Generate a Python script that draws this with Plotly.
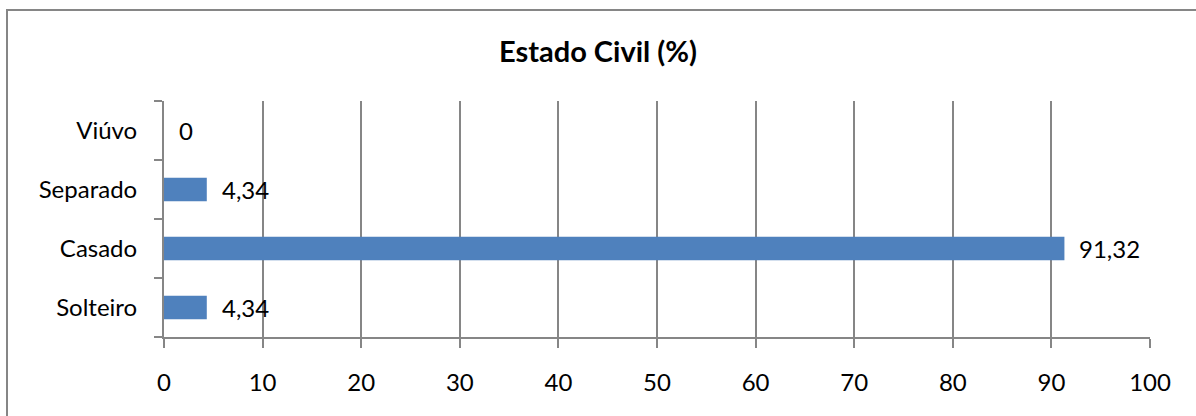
import plotly.graph_objects as go

categories = ["Solteiro", "Casado", "Separado", "Viúvo"]
values = [4.34, 91.32, 4.34, 0]
x_ticks = [0, 10, 20, 30, 40, 50, 60, 70, 80, 90, 100]
title = "Estado Civil (%)"

FONT = "Lato"
GRID = "#868686"
BAR = "#4F81BD"

def fmt(v):
    s = ("%g" % v)
    return s.replace(".", ",")

fig = go.Figure()
fig.add_trace(go.Bar(
    y=categories, x=values, orientation="h",
    marker=dict(color=BAR, line=dict(width=0)),
    width=0.4, hoverinfo="skip",
))

for c, v in zip(categories, values):
    fig.add_annotation(x=v, y=c, xref="x", yref="y", text=fmt(v),
                       showarrow=False, xanchor="left", yanchor="middle",
                       xshift=13, font=dict(family=FONT, size=24, color="#000"))

W, H = 1196, 416
L, R, T, B = 164, 46, 101, 79
pw, ph = W - L - R, H - T - B
# outer frame
fig.add_shape(type="rect", xref="paper", yref="paper",
              x0=(7 - L) / pw, x1=(W + 10 - L) / pw,
              y0=1 - (H + 10 - T) / ph, y1=1 + (T - 10) / ph,
              line=dict(color=GRID, width=2), fillcolor="rgba(0,0,0,0)", layer="below")

fig.update_layout(
    width=W, height=H,
    margin=dict(l=L, r=R, t=T, b=B, pad=0),
    paper_bgcolor="white", plot_bgcolor="white",
    showlegend=False,
    font=dict(family=FONT, size=24, color="#000"),
    title=dict(text="<b>" + title + "</b>", x=0.5, xanchor="center",
               y=1 - 52 / H, yanchor="middle",
               font=dict(family=FONT, size=29, color="#000")),
    xaxis=dict(range=[0, 100], tickvals=x_ticks, ticktext=[str(t) for t in x_ticks],
               showgrid=True, gridcolor=GRID, gridwidth=2,
               showline=True, linecolor=GRID, linewidth=2,
               ticks="outside", ticklen=9, tickcolor=GRID, tickwidth=2,
               ticklabelstandoff=14,
               zeroline=False, fixedrange=True,
               tickfont=dict(family=FONT, size=24, color="#000")),
    yaxis=dict(categoryorder="array", categoryarray=categories,
               showgrid=False, showline=True, linecolor=GRID, linewidth=2,
               ticks="outside", ticklen=8, tickcolor=GRID, tickwidth=2,
               tickson="boundaries", ticklabelstandoff=20,
               zeroline=False, fixedrange=True,
               tickfont=dict(family=FONT, size=24, color="#000")),
)

fig.write_html("out.html")
